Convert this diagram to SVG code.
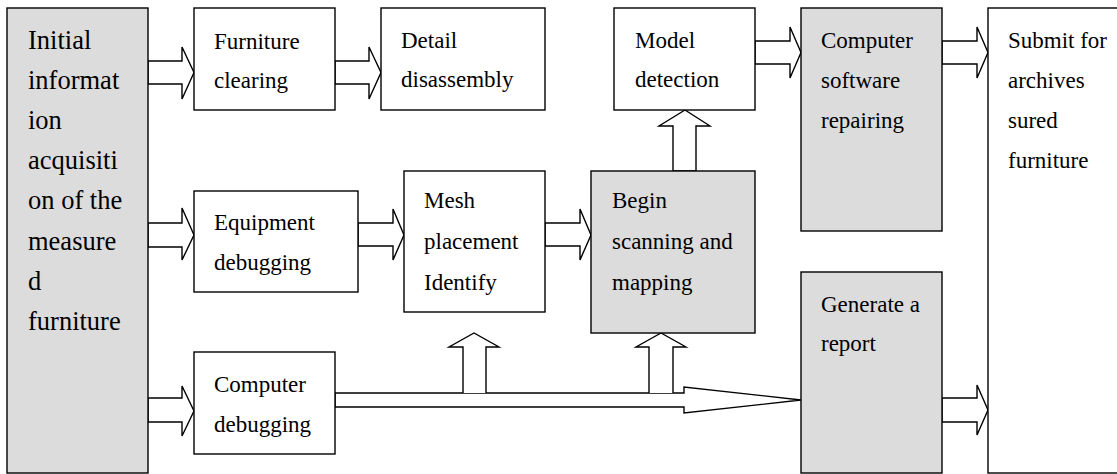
<svg xmlns="http://www.w3.org/2000/svg" width="1117" height="474" viewBox="0 0 1117 474">
<style>
.box{fill:#ffffff;stroke:#000;stroke-width:1.4}
.gray{fill:#dcdcdc;stroke:#000;stroke-width:1.4}
.arr{fill:#ffffff;stroke:#000;stroke-width:1.4;stroke-linejoin:miter}
.open{fill:#ffffff;stroke:#000;stroke-width:1.4}
text{font-family:"Liberation Serif","Times New Roman",serif;font-size:23px;fill:#000}
.big{font-size:26.5px}
</style>
<rect width="1117" height="474" fill="#ffffff"/>
<g id="connectors">
<!-- Initial -> Furniture clearing -->
<polygon class="arr" points="148,61 182,61 182,47 194,72.5 182,99 182,84 148,84"/>
<!-- Furniture -> Detail -->
<polygon class="arr" points="335,61 369,61 369,47 381,72.5 369,99 369,84 335,84"/>
<!-- Initial -> Equipment -->
<polygon class="arr" points="148,223 182,223 182,208 194,235 182,260 182,247 148,247"/>
<!-- Equipment -> Mesh -->
<polygon class="arr" points="358,223 393,223 393,209 404,235 393,260 393,246 358,246"/>
<!-- Mesh -> Begin -->
<polygon class="arr" points="545,223 580,223 580,209 591,235 580,260 580,246 545,246"/>
<!-- Begin -> Model (up) -->
<polygon class="arr" points="673,171 673,126 659,126 685,110 710,126 696,126 696,171"/>
<!-- Model -> Computer software -->
<polygon class="arr" points="755,41 790,41 790,27 801,52.5 790,78 790,64 755,64"/>
<!-- Computer software -> Submit -->
<polygon class="arr" points="942,41 977,41 977,27 988,52.5 977,78 977,64 942,64"/>
<!-- Initial -> Computer debugging -->
<polygon class="arr" points="148,398 182,398 182,386 194,411 182,436 182,422 148,422"/>
<!-- Computer debugging -> Generate report (long) -->
<polygon class="arr" points="335,393 684,393 684,387 801,400 684,413 684,407 335,407"/>
<!-- up to Mesh -->
<polyline class="open" points="463,393 463,347 449,347 474,333 499,347 486,347 486,393"/>
<!-- up to Begin -->
<polyline class="open" points="649,393 649,347 636,347 661,333 686,347 673,347 673,393"/>
<!-- Generate -> Submit -->
<polygon class="arr" points="942,398 977,398 977,385 988,410 977,435 977,422 942,422"/>
</g>
<g id="initial">
<rect class="gray" x="7" y="8" width="141" height="465"/>
<text class="big" x="28" y="49">Initial</text>
<text class="big" x="28" y="89">informat</text>
<text class="big" x="28" y="129">ion</text>
<text class="big" x="28" y="169">acquisiti</text>
<text class="big" x="28" y="209">on of the</text>
<text class="big" x="28" y="250">measure</text>
<text class="big" x="28" y="290">d</text>
<text class="big" x="28" y="330">furniture</text>
</g>
<g id="furniture-clearing">
<rect class="box" x="194" y="8" width="141" height="102"/>
<text x="214" y="49">Furniture</text>
<text x="214" y="88">clearing</text>
</g>
<g id="detail-disassembly">
<rect class="box" x="381" y="8" width="164" height="102"/>
<text x="401" y="48">Detail</text>
<text x="401" y="87">disassembly</text>
</g>
<g id="model-detection">
<rect class="box" x="614" y="8" width="141" height="102"/>
<text x="635" y="48">Model</text>
<text x="635" y="87">detection</text>
</g>
<g id="computer-software-repairing">
<rect class="gray" x="801" y="8" width="141" height="223"/>
<text x="821" y="48">Computer</text>
<text x="821" y="88">software</text>
<text x="821" y="128">repairing</text>
</g>
<g id="submit">
<rect class="box" x="988" y="8" width="140" height="465"/>
<text x="1008" y="48">Submit for</text>
<text x="1008" y="88">archives</text>
<text x="1008" y="128">sured</text>
<text x="1008" y="168">furniture</text>
</g>
<g id="equipment-debugging">
<rect class="box" x="194" y="191" width="164" height="101"/>
<text x="214" y="230">Equipment</text>
<text x="214" y="270">debugging</text>
</g>
<g id="mesh-placement">
<rect class="box" x="404" y="171" width="141" height="141"/>
<text x="424" y="208">Mesh</text>
<text x="424" y="249">placement</text>
<text x="424" y="290">Identify</text>
</g>
<g id="begin-scanning">
<rect class="gray" x="591" y="171" width="164" height="162"/>
<text x="612" y="208">Begin</text>
<text x="612" y="249">scanning and</text>
<text x="612" y="290">mapping</text>
</g>
<g id="generate-report">
<rect class="gray" x="801" y="272" width="141" height="201"/>
<text x="821" y="312">Generate a</text>
<text x="821" y="351">report</text>
</g>
<g id="computer-debugging">
<rect class="box" x="194" y="352" width="141" height="102"/>
<text x="214" y="392">Computer</text>
<text x="214" y="432">debugging</text>
</g>
</svg>
